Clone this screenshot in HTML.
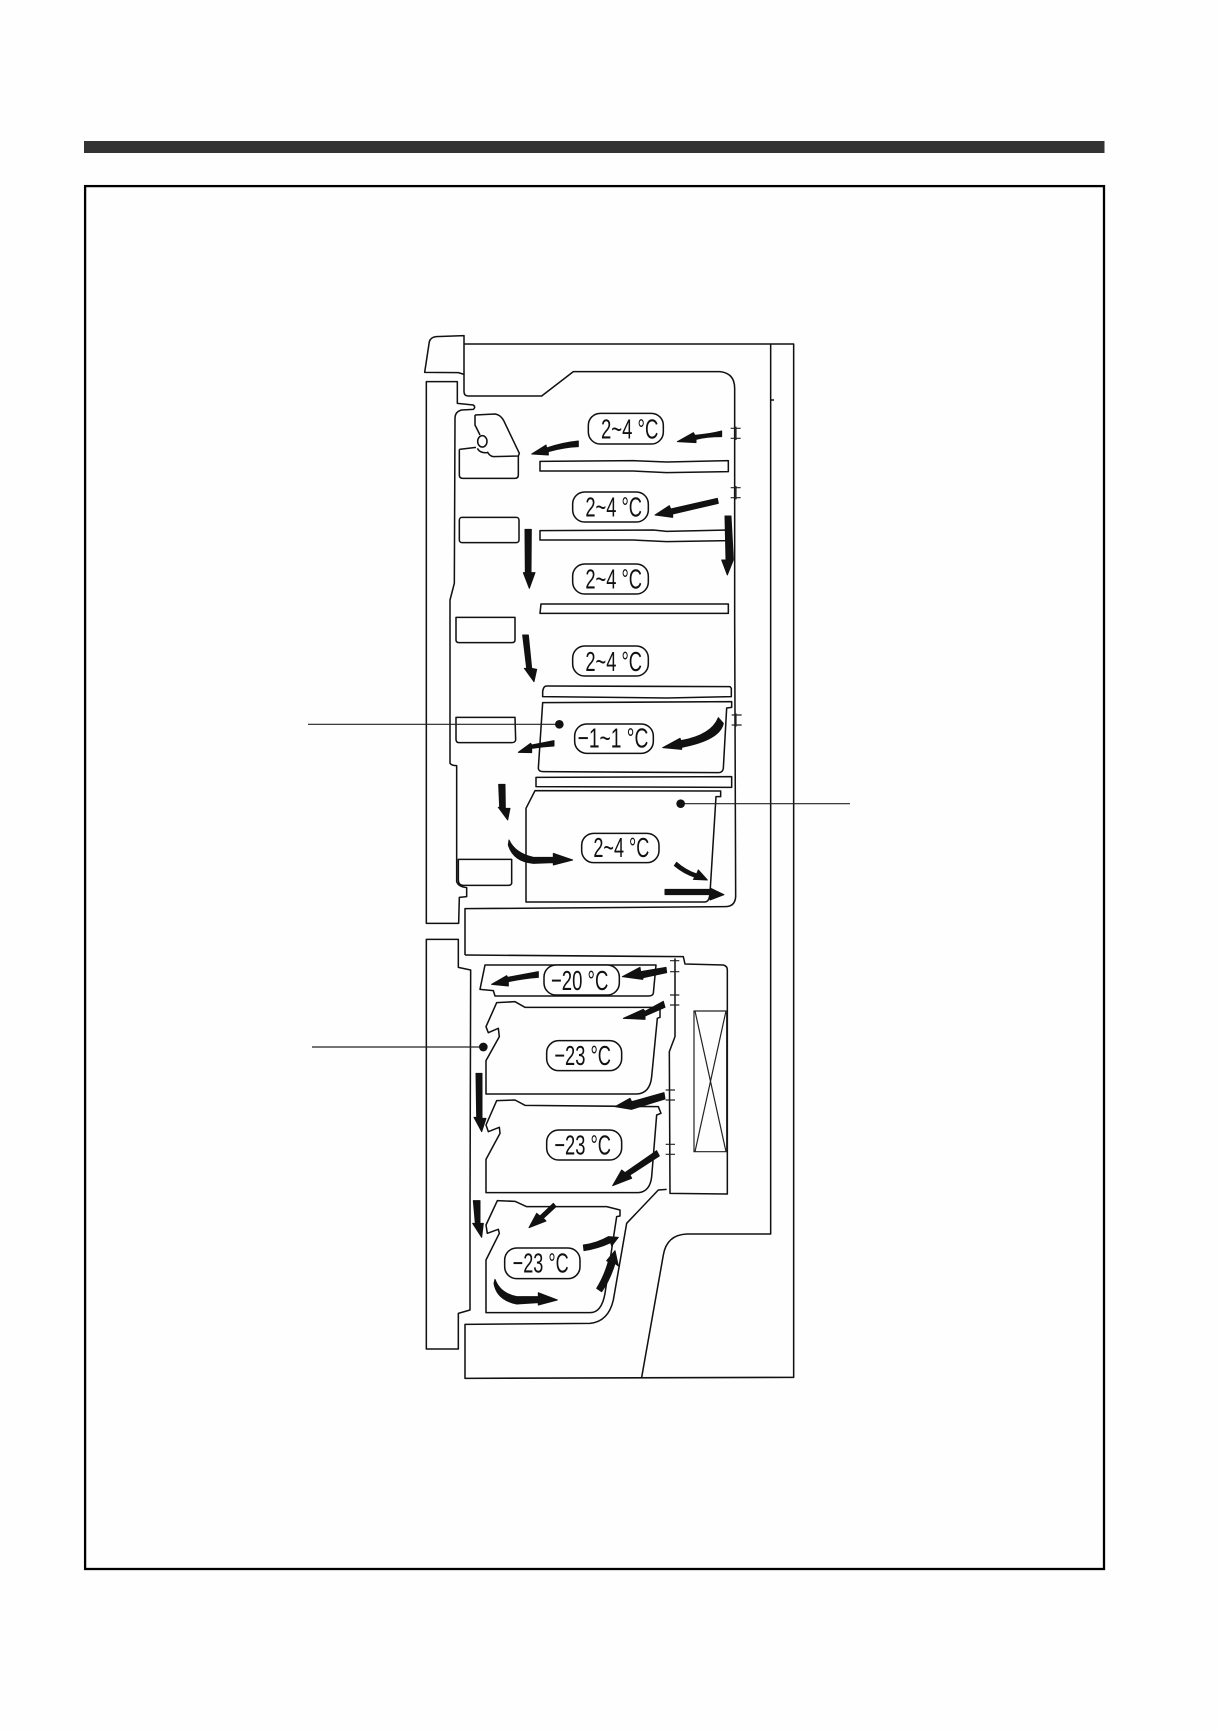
<!DOCTYPE html>
<html><head><meta charset="utf-8"><style>
html,body{margin:0;padding:0;background:#fefefe}
svg{display:block}
.l{fill:none;stroke:#111;stroke-width:4.6;stroke-linejoin:round}
.t{fill:none;stroke:#222;stroke-width:3.6}
.a{fill:#111;stroke:#111;stroke-width:3;stroke-linejoin:round}
.p{fill:#fff;stroke:#111;stroke-width:4.6}
text{font-family:"Liberation Sans",sans-serif;font-size:84px;fill:#111}
</style></head><body>
<svg width="1218" height="1730" viewBox="0 0 1218 1730" xmlns="http://www.w3.org/2000/svg">
<rect x="84" y="141" width="1020.5" height="12" fill="#333"/>
<rect x="85.1" y="186.1" width="1018.9" height="1382.9" fill="none" stroke="#000" stroke-width="2.3"/>

<!-- Section 1 -->
<g transform="translate(400,320) scale(.33333)">
<path class="l" d="M74,157 L88,65 Q92,52 108,50 L192,47 L192,163 L175,158 Z"/>
<path class="l" d="M192,72 L1181,72 L1181,900 M1112,72 L1112,900 M1112,240 L1122,240"/>
<path class="l" d="M192,163 L192,215 Q192,228 205,228 L425,228 L520,155 L960,155 Q1004,160 1004,205 L1004,900"/>
<path class="l" d="M79,900 L79,185 L172,185 L172,250 L220,255 Q228,262 220,268 L185,270 Q165,275 165,295 L163,790 L150,840 L150,900"/>
<path class="l" d="M178,388 L178,465 Q178,475 188,475 L345,475 Q355,475 355,465 L355,408 M178,388 L228,382"/>
<path class="l" d="M225,285 L285,282 Q305,285 315,310 L358,400 L355,408 L280,410 Q268,408 262,395 M225,285 L225,315 L240,345 M232,385 Q240,400 262,398"/>
<ellipse class="l" cx="247" cy="364" rx="14" ry="17"/>
<rect class="l" x="178" y="592" width="179" height="76" rx="8"/>
<path class="l" d="M168,900 L168,892 L345,892 L345,900"/>
<path class="l" d="M420,424 L700,422 L800,426 L985,422 L985,455 L800,458 L700,453 L420,453 Z"/>
<path class="l" d="M420,632 L760,630 L800,634 L985,630 L985,662 L800,665 L700,660 L420,660 Z"/>
<path class="l" d="M423,852 L985,852 L985,880 L420,880 Z"/>
<path class="t" d="M992,325 L1022,325 M992,355 L1022,355 M992,503 L1022,503 M992,533 L1022,533 M1008,320 L1008,360 M1008,498 L1008,538"/>
<rect class="p" x="565" y="280" width="225" height="92" rx="36"/>
<text x="603" y="355" textLength="172" lengthAdjust="spacingAndGlyphs">2~4 °C</text>
<rect class="p" x="518" y="516" width="227" height="90" rx="36"/>
<text x="556" y="590" textLength="170" lengthAdjust="spacingAndGlyphs">2~4 °C</text>
<rect class="p" x="518" y="732" width="227" height="90" rx="36"/>
<text x="556" y="806" textLength="170" lengthAdjust="spacingAndGlyphs">2~4 °C</text>
<path class="a" d="M965,333 L965,350 Q920,350 888,358 L888,368 L832,365 L880,338 L885,346 Q930,342 965,333 Z"/>
<path class="a" d="M535,363 L535,380 Q490,382 445,395 L445,405 L395,402 L438,375 L440,384 Q485,368 535,363Z"/>
<path class="a" d="M952,535 L955,550 L818,582 L818,592 L765,585 L808,557 L812,567Z"/>
<path class="a" d="M975,588 L993,588 L1000,715 L1000,720 L982,765 L965,720 L978,720Z"/>
<path class="a" d="M375,628 L394,628 L393,758 L405,758 L388,805 L370,758 L376,758Z"/>
</g>

<!-- Section 2 -->
<g transform="translate(400,620) scale(.33333)">
<path class="l" d="M1112,0 L1112,1020 M1181,0 L1181,1020"/>
<path class="l" d="M1004,0 L1007,830 Q1005,860 975,860 L195,866 L195,1005"/>
<path class="l" d="M79,0 L79,910 L176,910 L178,832 L200,830 L200,803 Q175,800 170,785 L170,437 Q155,437 150,430 L150,0"/>
<path class="l" d="M168,0 L168,60 Q168,68 178,68 L335,68 Q345,68 345,60 L345,0"/>
<path class="l" d="M168,292 L345,292 L347,360 Q345,368 335,368 L178,368 Q168,368 168,358 Z"/>
<path class="l" d="M175,718 L335,718 L335,790 Q333,796 325,796 L190,796 Q175,796 175,780 Z"/>
<path class="l" d="M428,215 Q430,198 440,198 L990,200 L994,205 L994,230 L800,234 L428,230 Z"/>
<path class="l" d="M428,248 L995,245 L995,262 L980,264 L970,445 Q968,458 955,458 L430,455 Q416,455 415,445 Z"/>
<path class="l" d="M408,472 L995,470 L995,502 L408,500 Z"/>
<path class="l" d="M405,512 L962,513 L962,530 L948,530 L930,820 Q928,845 915,846 L378,846 L378,565 Z"/>
<path class="t" d="M995,285 L1025,285 M995,315 L1025,315 M1008,280 L1008,320"/>
<path class="t" d="M-276,313 L478,313 M842,551 L1350,551"/>
<circle cx="478" cy="313" r="13" fill="#111"/>
<circle cx="842" cy="551" r="13" fill="#111"/>
<rect class="p" x="518" y="78" width="227" height="90" rx="36"/>
<text x="556" y="153" textLength="170" lengthAdjust="spacingAndGlyphs">2~4 °C</text>
<rect class="p" x="524" y="312" width="236" height="88" rx="36"/>
<text x="533" y="383" textLength="212" lengthAdjust="spacingAndGlyphs">−1~1 °C</text>
<rect class="p" x="545" y="640" width="232" height="88" rx="36"/>
<text x="580" y="711" textLength="168" lengthAdjust="spacingAndGlyphs">2~4 °C</text>
<path class="a" d="M368,45 L385,45 L395,145 L410,148 L402,185 L373,145 L380,145Z"/>
<path class="a" d="M955,293 L970,310 Q960,360 845,382 L845,388 L788,383 L840,355 L843,362 Q935,345 955,293Z"/>
<path class="a" d="M462,362 L462,378 Q430,380 395,385 L395,398 L355,397 L392,370 L395,375Z"/>
<path class="a" d="M296,493 L315,493 L316,565 L330,565 L323,600 L295,562 L299,562Z"/>
<path class="a" d="M327,660 Q345,700 400,712 L460,712 L460,700 L518,720 L460,735 L460,728 L400,730 Q340,725 325,675Z"/>
<path class="a" d="M830,727 Q855,750 890,762 L895,750 L922,780 L880,778 L885,772 Q850,760 823,737Z"/>
<path class="a" d="M795,808 L930,808 L930,804 L972,824 L930,840 L930,824 L795,824Z"/>
</g>

<!-- Section 3 -->
<g transform="translate(400,930) scale(.33333)">
<path class="l" d="M1112,90 L1112,840 M1181,90 L1181,840"/>
<path class="l" d="M195,75 L850,80 L855,102 L970,105 Q982,108 982,120 L982,792 L810,790 L808,365 L825,320 L825,85"/>
<path class="l" d="M210,840 L212,120 L175,112 L175,28 L79,28 L79,840"/>
<path class="l" d="M255,105 L768,105 L760,190 Q758,198 745,198 L285,198 L280,182 L240,178 Z"/>
<path class="l" d="M290,218 L345,215 L375,232 L780,232 L780,262 L772,265 L755,440 Q750,490 710,492 L258,492 L258,392 L298,320 L295,295 L265,308 L258,290 Z"/>
<path class="l" d="M290,512 L345,510 L375,526 L775,530 L783,550 L770,555 L755,740 Q750,785 715,788 L258,788 L258,688 L300,610 L298,592 L265,605 L258,585 Z"/>
<path class="t" d="M882,243 L980,243 L980,665 L882,665 Z M885,243 L978,665 M978,243 L885,665"/>
<path class="t" d="M810,92 L838,92 M810,125 L838,125 M810,195 L838,195 M810,225 L838,225 M797,480 L825,480 M797,510 L825,510 M797,643 L825,643 M797,673 L825,673"/>
<path class="t" d="M-264,351 L250,351"/>
<circle cx="250" cy="351" r="13" fill="#111"/>
<rect class="p" x="432" y="105" width="226" height="90" rx="36"/>
<text x="453" y="180" textLength="172" lengthAdjust="spacingAndGlyphs">−20 °C</text>
<rect class="p" x="440" y="332" width="225" height="90" rx="36"/>
<text x="463" y="405" textLength="170" lengthAdjust="spacingAndGlyphs">−23 °C</text>
<rect class="p" x="440" y="600" width="225" height="90" rx="36"/>
<text x="463" y="673" textLength="170" lengthAdjust="spacingAndGlyphs">−23 °C</text>
<path class="a" d="M415,125 L415,142 Q370,145 325,155 L325,168 L275,163 L320,137 L323,142Z"/>
<path class="a" d="M798,112 L800,128 L730,143 L728,148 L667,140 L720,112 L722,125 Z"/>
<path class="a" d="M790,214 L795,232 L735,258 L735,268 L670,265 L730,238 L735,244 Z"/>
<path class="a" d="M792,488 L795,507 L730,527 L695,538 L645,530 L690,505 L695,515Z"/>
<path class="a" d="M770,662 L778,678 L690,735 L695,745 L638,767 L665,720 L675,728Z"/>
<path class="a" d="M228,430 L246,430 L246,565 L258,565 L245,605 L222,562 L230,562Z"/>
</g>

<!-- Section 4 -->
<g transform="translate(400,1180) scale(.33333)">
<path class="l" d="M1112,90 L1112,162 L860,162 Q800,165 790,225 L725,592"/>
<path class="l" d="M1181,90 L1181,592 L195,595 L195,433 L570,430 Q625,425 640,360 L680,130 L775,30 L800,28"/>
<path class="l" d="M210,90 L210,390 L175,400 L175,507 L79,507 L79,90"/>
<path class="l" d="M292,62 L345,64 L380,80 L620,80 L660,90 L660,108 L650,110 L615,340 Q605,398 570,398 L258,398 L258,240 L298,160 L295,148 L262,160 L258,135 Z"/>
<rect class="p" x="314" y="204" width="226" height="92" rx="36"/>
<text x="338" y="278" textLength="168" lengthAdjust="spacingAndGlyphs">−23 °C</text>
<path class="a" d="M220,62 L240,62 L240,130 L250,130 L245,172 L218,130 L226,130 Z"/>
<path class="a" d="M460,70 L468,80 L430,115 L438,123 L387,143 L410,100 L420,108Z"/>
<path class="a" d="M550,195 Q590,190 625,170 L655,172 L635,198 L632,188 Q595,205 552,212Z"/>
<path class="a" d="M590,325 Q612,290 625,245 L620,242 L645,212 L655,258 L645,250 Q630,300 605,335Z"/>
<path class="a" d="M285,298 Q300,340 350,350 L415,350 L415,338 L472,360 L415,375 L415,368 L350,372 Q290,360 282,310Z"/>
</g>
</svg>
</body></html>
